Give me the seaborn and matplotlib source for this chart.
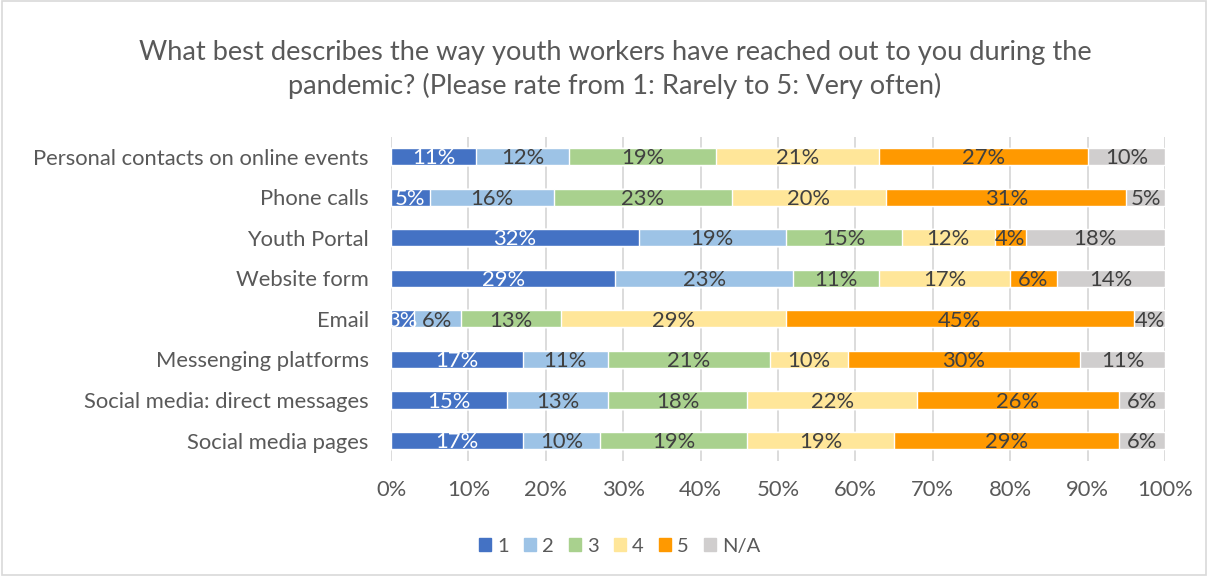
import matplotlib
matplotlib.use("Agg")
import matplotlib.pyplot as plt
import seaborn as sns
import numpy as np
import pandas as pd
from matplotlib.patches import Rectangle

categories = [
    "Personal contacts on online events",
    "Phone calls",
    "Youth Portal",
    "Website form",
    "Email",
    "Messenging platforms",
    "Social media: direct messages",
    "Social media pages",
]
series_names = ["1", "2", "3", "4", "5", "N/A"]
r1 = [11, 5, 32, 29, 3, 17, 15, 17]
r2 = [12, 16, 19, 23, 6, 11, 13, 10]
r3 = [19, 23, 15, 11, 13, 21, 18, 19]
r4 = [21, 20, 12, 17, 29, 10, 22, 19]
r5 = [27, 31, 4, 6, 45, 30, 26, 29]
rna = [10, 5, 18, 14, 4, 11, 6, 6]
xtick_labels = ["0%", "10%", "20%", "30%", "40%", "50%", "60%", "70%", "80%", "90%", "100%"]

colors = ["#4472C4", "#9DC3E6", "#A9D18E", "#FFE699", "#FF9900", "#D0CECE"]
label_colors = ["white", "#404040", "#404040", "#404040", "#404040", "#404040"]

sns.set_theme(style="white")
plt.rcParams["font.family"] = ["Lato", "DejaVu Sans"]
text_gray = "#595959"
fs = 15.8

values = np.array([r1, r2, r3, r4, r5, rna], dtype=float)
cums = np.cumsum(values, axis=0)

fig = plt.figure(figsize=(12.08, 5.76), dpi=100)
ax = fig.add_axes([0.3237, 0.2, 0.6407, 0.563])

# stacked bars: draw cumulative totals from the outermost segment inward
for i in range(len(series_names) - 1, -1, -1):
    df = pd.DataFrame({"cat": categories, "val": cums[i]})
    sns.barplot(data=df, x="val", y="cat", orient="h", color=colors[i],
                width=0.42, ax=ax, saturation=1, zorder=3)

for i in range(len(series_names)):
    for j, cat in enumerate(categories):
        v = values[i, j]
        mid = cums[i, j] - v / 2
        ax.text(mid, j + 0.04, f"{int(v)}%", ha="center", va="center",
                fontsize=fs, color=label_colors[i], zorder=5)

ax.set_xlim(0, 100)
ax.set_xticks(np.arange(0, 101, 10))
ax.set_xticklabels(xtick_labels, fontsize=fs, color=text_gray)
ax.tick_params(axis="y", labelsize=fs, labelcolor=text_gray, length=0, pad=16)
ax.tick_params(axis="x", length=0, pad=14)
ax.set_xlabel("")
ax.set_ylabel("")
ax.grid(axis="x", color="#D9D9D9", linewidth=1.3, zorder=0)
ax.set_axisbelow(True)
for s in ax.spines.values():
    s.set_visible(False)

fig.text(0.509, 0.880,
         "What best describes the way youth workers have reached out to you during the\n"
         "pandemic? (Please rate from 1: Rarely to 5: Very often)",
         ha="center", va="center", fontsize=19.6, color=text_gray, linespacing=1.38)

handles = [Rectangle((0, 0), 1, 1, color=c) for c in colors]
fig.legend(handles, series_names, loc="center", bbox_to_anchor=(0.513, 0.052),
           ncol=6, frameon=False, fontsize=14.5, labelcolor=text_gray,
           handlelength=0.6, handleheight=0.6, handletextpad=0.3, columnspacing=0.75)

fig.patches.append(Rectangle((0.002, 0.002), 0.996, 0.996, transform=fig.transFigure,
                             fill=False, edgecolor="#D9D9D9", linewidth=1.2))

fig.savefig("out.png", dpi=100, facecolor="white")
